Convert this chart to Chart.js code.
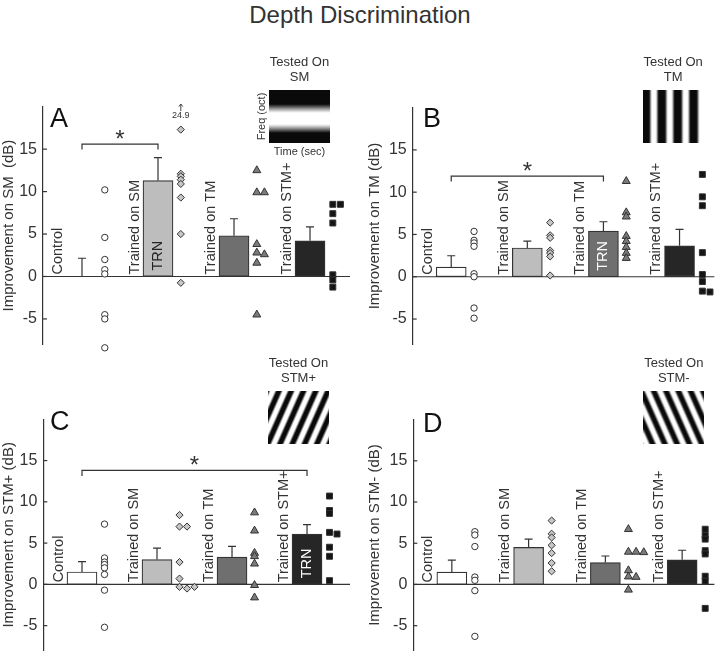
<!DOCTYPE html>
<html>
<head>
<meta charset="utf-8">
<script src="https://cdn.jsdelivr.net/npm/chart.js@4/dist/chart.umd.min.js"></script>
<style>
  body { margin: 0; background: #fff; width: 720px; height: 666px; position: relative; overflow: hidden;
         font-family: "Liberation Sans", Arial, sans-serif; }
  #title { position: absolute; left: 0; top: 0; width: 720px; text-align: center; font-size: 24px;
           line-height: 30px; color: #333; }
  .panel { position: absolute; }
</style>
</head>
<body>
<div id="title">Depth Discrimination</div>
<div class="panel" style="left:0;top:40px;width:360px;height:320px"><canvas id="chartA"></canvas></div>
<div class="panel" style="left:360px;top:40px;width:360px;height:320px"><canvas id="chartB"></canvas></div>
<div class="panel" style="left:0;top:350px;width:360px;height:316px"><canvas id="chartC"></canvas></div>
<div class="panel" style="left:360px;top:350px;width:360px;height:316px"><canvas id="chartD"></canvas></div>
<script>
const family = '"Liberation Sans", Arial, sans-serif';
const groups = ['Control', 'Trained on SM', 'Trained on TM', 'Trained on STM+'];
const yTicks = [-5, 0, 5, 10, 15];
const barColors = ['#ffffff', '#bdbdbd', '#6f6f6f', '#262626'];
const markerStyles = ['circle', 'rectRot', 'triangle', 'rect'];
const markerFills = ['#ffffff', '#c6c6c6', '#7a7a7a', '#151515'];
const markerRadius = [3.2, 3.6, 4.6, 4.2];
const capTop = 20.9; // off-scale points are drawn here with their value

// A: tested on SM
const meanA = [0, 11.3, 4.8, 4.2];
const semA = [2.15, 2.7, 2.0, 1.65];
const ctrlA = [10.2, 4.6, 2.0, 0.8, 0.3, -4.5, -5.0, -8.4];
const smA = [24.9, 17.3, 12.1, 11.8, 11.4, 10.9, 9.3, 5.0, -0.75];
const tmA = [12.5, 9.9, 9.9, 3.8, 2.8, 2.6, 1.6, -4.5];
const stmA = [8.5, 8.5, 7.4, 6.3, 0.2, -0.4, -1.25];

// B: tested on TM
const meanB = [1.13, 3.4, 5.4, 3.65];
const semB = [1.35, 0.8, 1.1, 1.95];
const ctrlB = [5.36, 4.3, 4.0, 3.6, 0.35, 0.0, -3.7, -4.9];
const smB = [6.4, 4.9, 4.6, 3.1, 2.8, 2.4, 0.15];
const tmB = [11.3, 7.6, 7.1, 4.8, 4.2, 3.5, 2.8, 2.2];
const stmB = [12.1, 9.45, 8.4, 2.85, 0.26, -0.57, -1.7, -1.8];

// C: tested on STM+
const meanC = [1.5, 3.0, 3.3, 6.1];
const semC = [1.25, 1.4, 1.3, 1.15];
const ctrlC = [7.3, 3.2, 2.7, 2.4, 2.0, 1.2, -0.7, -5.2];
const smC = [8.4, 7.0, 7.0, 2.7, 0.7, -0.3, -0.5, -0.3];
const tmC = [8.7, 6.5, 3.8, 3.4, 2.5, -0.1, -1.6];
const stmC = [10.7, 8.95, 8.6, 6.3, 6.1, 4.5, 3.4, 0.45];

// D: tested on STM-
const meanD = [1.5, 4.5, 2.65, 3.0];
const semD = [1.45, 1.0, 0.8, 1.15];
const ctrlD = [6.4, 6.0, 4.6, 0.9, 0.5, -0.75, -6.3];
const smD = [7.75, 6.15, 5.7, 4.75, 3.8, 2.6, 1.6];
const tmD = [6.7, 3.95, 3.95, 3.9, 1.7, 0.95, 0.9, -0.65];
const stmD = [6.7, 5.95, 5.5, 4.1, 3.7, 1.0, 0.4, -2.9];

// side-by-side slots for points that would sit on top of each other
function slots(vals) {
  const placed = [];
  return vals.map(v => {
    let k = [0, 1, 2, -1].find(s => !placed.some(q => q.k === s && Math.abs(q.v - v) < 0.25));
    if (k === undefined) k = 3;
    placed.push({ v, k });
    return k;
  });
}

function grating(kind, w, h) {
  const c = document.createElement('canvas');
  c.width = w; c.height = h;
  const g = c.getContext('2d');
  const img = g.createImageData(w, h);
  for (let y = 0; y < h; y++) {
    for (let x = 0; x < w; x++) {
      let v;
      if (kind === 'h') v = 0.35 + 0.9 * Math.cos(2 * Math.PI * (y - 28) / 46);
      else if (kind === 'v') v = 0.3 + 1.0 * Math.cos(2 * Math.PI * (x - 10.6) / 15.9);
      else if (kind === 'up') v = 0.5 + 0.8 * Math.cos(2 * Math.PI * (x + y / 2.26 - 4) / 12.3);
      else v = 0.5 + 0.8 * Math.cos(2 * Math.PI * (x - y / 2.26 - 4) / 12.3);
      v = Math.max(0, Math.min(1, v)) * 245 + 10;
      const o = (y * w + x) * 4;
      img.data[o] = img.data[o + 1] = img.data[o + 2] = v;
      img.data[o + 3] = 255;
    }
  }
  g.putImageData(img, 0, 0);
  return c;
}

function makePanel(id, p) {
  const ctx = document.getElementById(id).getContext('2d');
  const pts = [p.ctrl, p.sm, p.tm, p.stm];

  const scatterSets = pts.map((vals, i) => {
    const k = slots(vals);
    return {
      type: 'scatter',
      data: vals.map((v, j) => ({ x: i + 0.3 + k[j] * 0.1, y: Math.min(v, capTop) })),
      pointStyle: markerStyles[i],
      pointRadius: markerRadius[i],
      backgroundColor: markerFills[i],
      borderColor: '#333',
      borderWidth: 1,
      clip: false
    };
  });

  const decor = {
    id: 'decor' + id,
    beforeDatasetsDraw(chart) {
      const { ctx, chartArea, scales: { y } } = chart;
      const y0 = y.getPixelForValue(0);
      ctx.save();
      ctx.strokeStyle = '#333';
      ctx.lineWidth = 1.2;
      ctx.beginPath();
      ctx.moveTo(chartArea.left, y0);
      ctx.lineTo(chartArea.right, y0);
      ctx.stroke();
      ctx.restore();
    },
    afterDatasetsDraw(chart) {
      const { ctx, scales: { x, y } } = chart;
      const y0 = y.getPixelForValue(0);
      ctx.save();
      ctx.strokeStyle = '#333';
      ctx.lineWidth = 1.2;
      // one-sided error bars
      p.mean.forEach((m, i) => {
        const px = x.getPixelForValue(i);
        const top = y.getPixelForValue(m + p.sem[i]);
        ctx.beginPath();
        ctx.moveTo(px, y.getPixelForValue(m));
        ctx.lineTo(px, top);
        ctx.moveTo(px - 4, top);
        ctx.lineTo(px + 4, top);
        ctx.stroke();
      });
      // rotated group labels and TRN
      ctx.font = '14.5px ' + family;
      ctx.textBaseline = 'middle';
      ctx.textAlign = 'left';
      groups.forEach((g, i) => {
        const px = x.getPixelForValue(i);
        ctx.save();
        ctx.translate(px - 23.5, y0 - 2);
        ctx.rotate(-Math.PI / 2);
        ctx.fillStyle = '#333';
        ctx.fillText(g, 0, 0);
        ctx.restore();
        if (i === p.trained) {
          ctx.save();
          ctx.translate(px, y0 - 6);
          ctx.rotate(-Math.PI / 2);
          ctx.fillStyle = i === 1 ? '#222' : '#fff';
          ctx.fillText('TRN', 0, 0);
          ctx.restore();
        }
      });
      // significance bracket
      if (p.sig) {
        const [a, b, v] = p.sig;
        const xa = x.getPixelForValue(a), xb = x.getPixelForValue(b), yb = y.getPixelForValue(v);
        ctx.beginPath();
        ctx.moveTo(xa, yb + 5.5);
        ctx.lineTo(xa, yb);
        ctx.lineTo(xb, yb);
        ctx.lineTo(xb, yb + 5.5);
        ctx.stroke();
        ctx.fillStyle = '#333';
        ctx.font = '24px ' + family;
        ctx.textAlign = 'center';
        ctx.textBaseline = 'alphabetic';
        ctx.fillText('*', (xa + xb) / 2, yb + 3);
      }
      // off-scale values
      pts.forEach((vals, i) => vals.forEach(v => {
        if (v <= capTop) return;
        const px = x.getPixelForValue(i + 0.3);
        const py = y.getPixelForValue(capTop);
        ctx.beginPath();
        ctx.moveTo(px, py + 12);
        ctx.lineTo(px, py + 5);
        ctx.moveTo(px - 2, py + 7.5);
        ctx.lineTo(px, py + 5);
        ctx.lineTo(px + 2, py + 7.5);
        ctx.lineWidth = 0.9;
        ctx.stroke();
        ctx.fillStyle = '#333';
        ctx.font = '9px ' + family;
        ctx.textAlign = 'center';
        ctx.textBaseline = 'middle';
        ctx.fillText(String(v), px, py + 16.5);
      }));
      ctx.restore();
    },
    afterDraw(chart) {
      const { ctx, chartArea, scales: { y } } = chart;
      ctx.save();
      ctx.strokeStyle = '#333';
      ctx.lineWidth = 1.2;
      yTicks.forEach(t => {
        const py = y.getPixelForValue(t);
        ctx.beginPath();
        ctx.moveTo(chartArea.left, py);
        ctx.lineTo(chartArea.left + 4, py);
        ctx.stroke();
      });
      ctx.fillStyle = '#111';
      ctx.font = '27px ' + family;
      ctx.textAlign = 'left';
      ctx.textBaseline = 'alphabetic';
      ctx.fillText(p.letter, p.letterX, p.letterY);
      const ins = p.inset;
      ctx.drawImage(grating(ins.kind, 61, 53), ins.x, ins.y);
      ctx.fillStyle = '#333';
      ctx.font = '13px ' + family;
      ctx.textAlign = 'center';
      ctx.textBaseline = 'middle';
      ctx.fillText('Tested On', ins.x + 30.5, ins.y - 28);
      ctx.fillText(ins.label, ins.x + 30.5, ins.y - 13);
      if (ins.axes) {
        ctx.font = '11px ' + family;
        ctx.fillText('Time (sec)', ins.x + 30.5, ins.y + 62);
        ctx.save();
        ctx.translate(ins.x - 7, ins.y + 26.5);
        ctx.rotate(-Math.PI / 2);
        ctx.fillText('Freq (oct)', 0, 0);
        ctx.restore();
      }
      ctx.restore();
    }
  };

  new Chart(ctx, {
    type: 'bar',
    data: {
      datasets: [{
        data: p.mean.map((m, i) => ({ x: i, y: m })),
        backgroundColor: barColors,
        borderColor: '#333',
        borderWidth: 1.2,
        borderSkipped: false,
        barThickness: 30
      }, ...scatterSets]
    },
    options: {
      responsive: true,
      maintainAspectRatio: false,
      animation: false,
      layout: { padding: p.pad },
      plugins: { legend: { display: false }, tooltip: { enabled: false } },
      scales: {
        x: { type: 'linear', min: p.xMin, max: p.xMax, offset: false, grid: { offset: false }, display: false },
        y: {
          min: -8, max: 20,
          afterBuildTicks: s => { s.ticks = yTicks.map(v => ({ value: v })); },
          afterFit: s => { s.width = p.axisW; },
          grid: { display: false, drawTicks: false },
          border: { color: '#333', width: 1.2 },
          ticks: { padding: 6, color: '#333', font: { size: 16, family } },
          title: { display: true, text: p.yTitle, color: '#333', padding: { top: 0, bottom: 0 },
                   font: { size: 15, family } }
        }
      }
    },
    plugins: [decor]
  });
}

makePanel('chartA', {
  mean: meanA, sem: semA, ctrl: ctrlA, sm: smA, tm: tmA, stm: stmA,
  trained: 1, sig: [0, 1, 15.6], yTitle: 'Improvement on SM  (dB)',
  pad: { left: 0, top: 66.7, right: 10, bottom: 6.7 }, axisW: 43, xMin: -0.513, xMax: 3.526,
  letter: 'A', letterX: 50, letterY: 87,
  inset: { kind: 'h', label: 'SM', x: 269, y: 50, axes: true }
});
makePanel('chartB', {
  mean: meanB, sem: semB, ctrl: ctrlB, sm: smB, tm: tmB, stm: stmB,
  trained: 2, sig: [0, 2, 11.9], yTitle: 'Improvement on TM (dB)',
  pad: { left: 6, top: 67.6, right: 2, bottom: 5.4 }, axisW: 46.7, xMin: -0.506, xMax: 3.458,
  letter: 'B', letterX: 63, letterY: 87,
  inset: { kind: 'v', label: 'TM', x: 282.7, y: 50 }
});
makePanel('chartC', {
  mean: meanC, sem: semC, ctrl: ctrlC, sm: smC, tm: tmC, stm: stmC,
  trained: 3, sig: [0, 3, 13.8], yTitle: 'Improvement on STM+ (dB)',
  pad: { left: 0, top: 69.3, right: 10, bottom: 0 }, axisW: 43.3, xMin: -0.516, xMax: 3.573,
  letter: 'C', letterX: 50, letterY: 80,
  inset: { kind: 'up', label: 'STM+', x: 268, y: 41 }
});
makePanel('chartD', {
  mean: meanD, sem: semD, ctrl: ctrlD, sm: smD, tm: tmD, stm: stmD,
  trained: -1, sig: null, yTitle: 'Improvement on STM- (dB)',
  pad: { left: 6, top: 69.6, right: 2, bottom: 0 }, axisW: 47.3, xMin: -0.502, xMax: 3.42,
  letter: 'D', letterX: 63, letterY: 82,
  inset: { kind: 'down', label: 'STM-', x: 283.3, y: 41 }
});
</script>
</body>
</html>
